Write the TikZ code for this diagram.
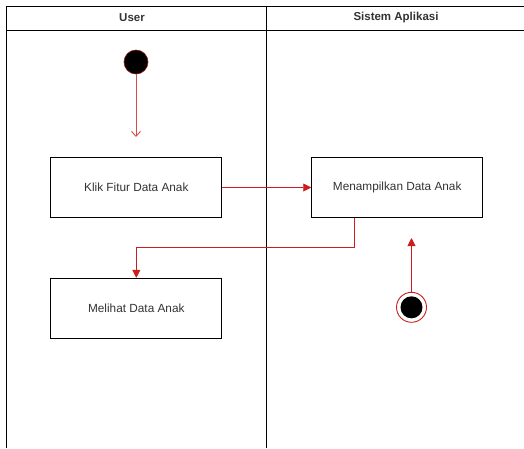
\documentclass[tikz,border=0pt]{standalone}
\usepackage{fontspec}
\setmainfont{Liberation Sans}
\usetikzlibrary{arrows.meta}
\definecolor{flow}{RGB}{204,30,30}
\definecolor{txt}{RGB}{51,51,51}
\tikzset{
  lane/.style={draw=black, line width=0.9pt},
  actbox/.style={draw=black, line width=0.9pt, minimum width=171pt, minimum height=60pt, inner sep=0pt, font=\fontsize{11.8}{13}\selectfont, text=txt},
  flowline/.style={draw=flow, line width=0.9pt},
  filledtip/.style={-{Triangle[length=8pt,width=8pt]}},
  opentip/.style={-{Straight Barb[length=5pt,width=9pt]}},
  hdr/.style={font=\bfseries\fontsize{11.5}{13}\selectfont, text=txt}
}
\begin{document}
\begin{tikzpicture}[x=1pt,y=-1pt]
\useasboundingbox (0,0) rectangle (524,448);
% swimlane frame
\draw[lane] (6,448) -- (6,6) -- (524,6);
\draw[lane] (6,30) -- (524,30);
\draw[lane] (266,6) -- (266,448);
\node[hdr] (hUser) at (132,18) {User};
\node[hdr] (hSys) at (396,18) {Sistem Aplikasi};
% start
\node[circle, fill=black, draw=flow!70!black, line width=0.6pt, minimum size=24pt, inner sep=0pt] (start) at (136,62) {};
\coordinate (startEnd) at (136,137);
% activities
\node[actbox] (klik) at (136.3,187.5) {Klik Fitur Data Anak};
\node[actbox] (tampil) at (397.2,187.5) {Menampilkan Data Anak};
\node[actbox] (lihat) at (136.3,308.3) {Melihat Data Anak};
% end
\node[circle, draw=flow, line width=0.9pt, fill=white, minimum size=30pt, inner sep=0pt] (end) at (411.5,307.3) {};
\node[circle, fill=black, minimum size=22pt, inner sep=0pt] (endIn) at (end.center) {};
\coordinate (endArrow) at (411.5,238);
% connectors
\draw[flowline, opentip, draw=flow!80!white] (start.south) -- (startEnd);
\draw[flowline, filledtip] (klik.east) -- (tampil.west);
\coordinate (elbowA) at (354.3,247.7);
\draw[flowline, filledtip] ([xshift=-42.9pt]tampil.south) -- (elbowA) -| (lihat.north);
\draw[flowline, filledtip] (end.north) -- (endArrow);
\end{tikzpicture}
\end{document}
